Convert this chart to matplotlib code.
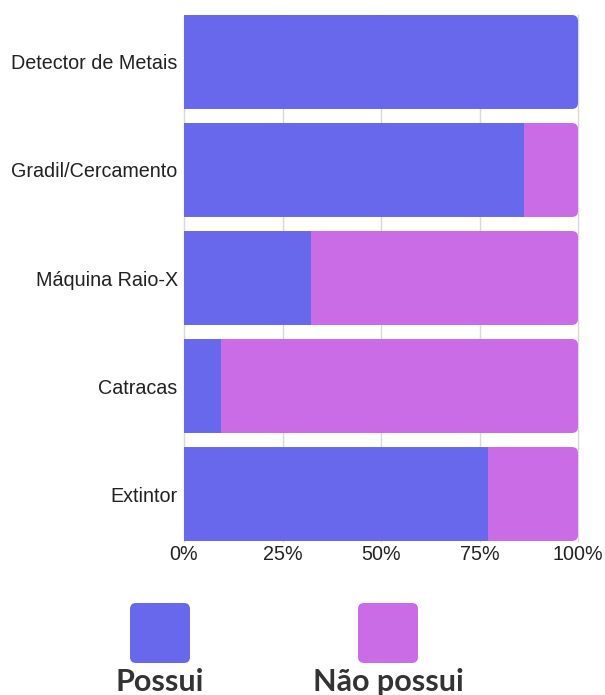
import matplotlib
matplotlib.use("Agg")
import matplotlib.pyplot as plt
from matplotlib.patches import FancyBboxPatch
from matplotlib.ticker import PercentFormatter

# ---------------------------------------------------------------------------
# Data (percent of schools)
# ---------------------------------------------------------------------------
categories = ["Detector de Metais", "Gradil/Cercamento", "Máquina Raio-X",
              "Catracas", "Extintor"]
possui = [100.0, 86.3, 32.2, 9.4, 77.2]
nao_possui = [100.0 - v for v in possui]
series_labels = ["Possui", "Não possui"]

BLUE = "#6868EC"
PURPLE = "#C96CE5"

W, H, DPI = 605, 695, 100
fig = plt.figure(figsize=(W / DPI, H / DPI), dpi=DPI)
ax = fig.add_axes([184 / W, 1 - 541 / H, (578 - 184) / W, (541 - 15) / H])

bar_h = 0.87
ypos = list(range(len(categories)))
b1 = ax.barh(ypos, possui, height=bar_h, color=BLUE, linewidth=0, zorder=3)
b2 = ax.barh(ypos, nao_possui, left=possui, height=bar_h, color=PURPLE,
             linewidth=0, zorder=3)

ax.set_xlim(0, 100)
ax.set_ylim(len(categories) - 1 + 0.435, -0.435)

# rounded right end for each stacked bar: clip with a rounded box
px_per_x = (578 - 184) / 100
px_per_y = 108
r_x = 6 / px_per_x
for i, y in enumerate(ypos):
    total = possui[i] + nao_possui[i]
    clip = FancyBboxPatch((-10, y - bar_h / 2), total + 10, bar_h,
                          boxstyle=f"round,pad=0,rounding_size={r_x}",
                          mutation_aspect=px_per_x / px_per_y,
                          transform=ax.transData, facecolor="none",
                          edgecolor="none")
    ax.add_patch(clip)
    b1[i].set_clip_path(clip)
    b2[i].set_clip_path(clip)

ax.set_xticks([0, 25, 50, 75, 100])
ax.xaxis.set_major_formatter(PercentFormatter(decimals=0))
ax.set_yticks(ypos)
ax.set_yticklabels(categories)
ax.tick_params(axis="both", length=0, labelsize=14.2, colors="#222222",
               labelfontfamily="Liberation Sans")
ax.tick_params(axis="y", pad=4.5)
ax.tick_params(axis="x", pad=3)
ax.grid(axis="x", color="#D9D9D9", linewidth=1, zorder=0)
for gl in ax.get_xgridlines():
    gl.set_clip_on(False)
for s in ax.spines.values():
    s.set_visible(False)

# legend: rounded squares with bold labels beneath
for cx, col, lab in [(160, BLUE, series_labels[0]),
                     (388, PURPLE, series_labels[1])]:
    sq = FancyBboxPatch(((cx - 30) / W, 1 - 663 / H), 60 / W, 60 / H,
                        boxstyle=f"round,pad=0,rounding_size={6 / W}",
                        mutation_aspect=W / H, transform=fig.transFigure,
                        facecolor=col, edgecolor="none")
    fig.patches.append(sq)
    fig.text(cx / W, 1 - 682 / H, lab, ha="center", va="center",
             fontsize=22, fontweight="bold", family="Lato", color="#333333")

fig.savefig("out.png", dpi=DPI)
